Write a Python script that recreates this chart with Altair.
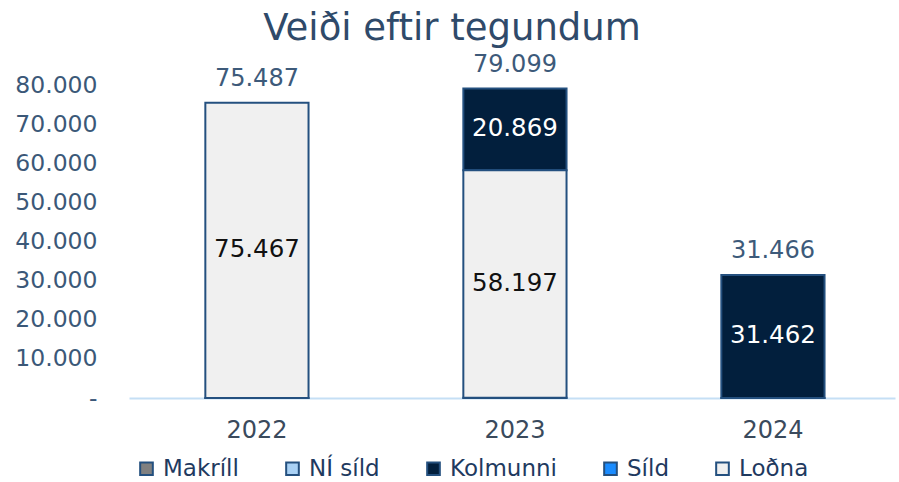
import altair as alt
import pandas as pd

years = ["2022", "2023", "2024"]
species = ["Makríll", "NÍ síld", "Kolmunni", "Síld", "Loðna"]
colors = ["#808080", "#a9d1f5", "#021f3d", "#1a8cff", "#f0f0f0"]
stack_order = {"Makríll": 0, "NÍ síld": 0, "Loðna": 1, "Kolmunni": 2, "Síld": 3}
y_ticks = [0, 10000, 20000, 30000, 40000, 50000, 60000, 70000, 80000]

makrill = [0, 0, 0]
ni_sild = [20, 33, 0]
kolmunni = [0, 20869, 31462]
sild = [0, 0, 0]
lodna = [75467, 58197, 4]

series = {"Makríll": makrill, "NÍ síld": ni_sild, "Kolmunni": kolmunni, "Síld": sild, "Loðna": lodna}
rows = []
for sp, vals in series.items():
    for y, v in zip(years, vals):
        if v > 0:
            rows.append({"year": y, "species": sp, "value": v, "ord": stack_order[sp]})
df = pd.DataFrame(rows)

FONT = "DejaVu Sans"
fmt = "replace(format(datum.value, ',d'), ',', '.')"

xscale = alt.Scale(paddingInner=0.6, paddingOuter=0.2845, align=0.52)
yscale = alt.Scale(domain=[0, 80000], nice=False)
xaxis = alt.Axis(labelAngle=0, labelFontSize=24, labelColor="#3a4a5c", labelFont=FONT,
                 ticks=False, domainColor="#c5dff5", domainWidth=2, labelPadding=20)
yaxis = alt.Axis(values=y_ticks, grid=False, ticks=False, domain=False, labelOverlap=False,
                 labelFontSize=23.5, labelColor="#3b5878", labelFont=FONT, labelPadding=32,
                 labelExpr="datum.value == 0 ? '-' : replace(format(datum.value, ',d'), ',', '.')")

base = alt.Chart(df).transform_stack(
    stack="value", groupby=["year"], as_=["v0", "v1"],
    sort=[alt.SortField("ord", order="ascending")]
).transform_calculate(mid="(datum.v0 + datum.v1) / 2", lbl=fmt)

bars = base.mark_bar(stroke="#24507f", strokeWidth=2).encode(
    x=alt.X("year:N", title=None, sort=years, scale=xscale, axis=xaxis),
    y=alt.Y("v1:Q", title=None, scale=yscale, axis=yaxis),
    y2="v0:Q",
    color=alt.Color("species:N", scale=alt.Scale(domain=species, range=colors),
                    legend=alt.Legend(title=None, orient="none", direction="horizontal",
                                      legendX=6, legendY=372, symbolType="square", symbolSize=160,
                                      symbolStrokeColor="#24507f", symbolStrokeWidth=2,
                                      labelFontSize=23, labelColor="#1f3a5f", labelFont=FONT,
                                      columnPadding=42, symbolOffset=0, labelOffset=5)),
)

inner = base.transform_filter("datum.value > 1000").mark_text(
    fontSize=24.5, font=FONT, baseline="middle"
).encode(
    x=alt.X("year:N", title=None, sort=years, scale=xscale, axis=xaxis),
    y=alt.Y("mid:Q", title=None, scale=yscale, axis=yaxis),
    text="lbl:N",
    color=alt.condition("datum.species == 'Kolmunni'", alt.value("#ffffff"), alt.value("#111111")),
)

totals = alt.Chart(df).transform_aggregate(
    total="sum(value)", groupby=["year"]
).transform_calculate(tl="replace(format(datum.total, ',d'), ',', '.')").mark_text(
    fontSize=24, font=FONT, baseline="alphabetic", dy=-17, color="#3d5a7a"
).encode(
    x=alt.X("year:N", title=None, sort=years, scale=xscale, axis=xaxis),
    y=alt.Y("total:Q", title=None, scale=yscale, axis=yaxis),
    text="tl:N",
)

chart = alt.layer(bars, inner, totals).properties(
    width=766, height=313,
    padding={"left": 129, "top": 85, "right": 4, "bottom": 84},
    autosize=alt.AutoSizeParams(type="none"),
    title=alt.TitleParams("Veiði eftir tegundum", fontSize=37, font=FONT, fontWeight="normal",
                          color="#2f4a6a", anchor="middle", dx=-60, offset=5),
).configure_view(stroke=None)

chart.save("out.html", embed_options={"renderer": "svg", "actions": False})
